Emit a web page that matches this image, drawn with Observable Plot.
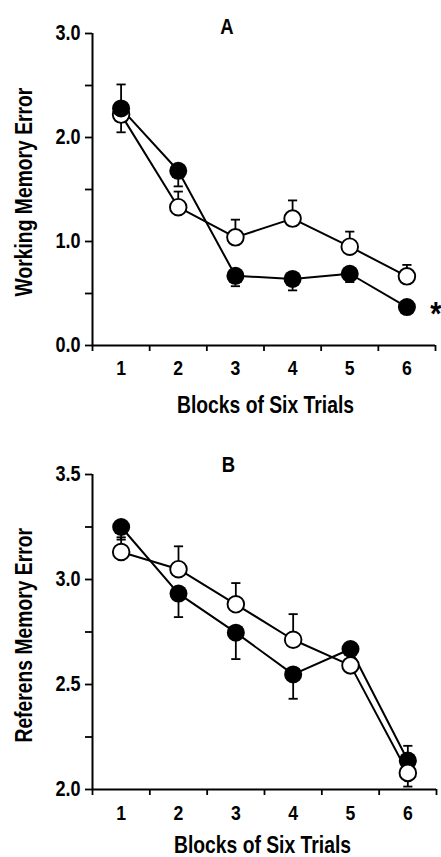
<!DOCTYPE html>
<html>
<head>
<meta charset="utf-8">
<script src="https://cdn.jsdelivr.net/npm/d3@7"></script>
<script src="https://cdn.jsdelivr.net/npm/@observablehq/plot@0.6"></script>
<style>
  html, body { margin: 0; padding: 0; background: #fff; }
  #chart svg { display: block; }
</style>
</head>
<body>
<div id="chart"></div>
<script>
// ---- data ----
const blocks = [1, 2, 3, 4, 5, 6];
const blockTicks = [0.5, 1.5, 2.5, 3.5, 4.5, 5.5, 6.5];
const xLabel = "Blocks of Six Trials";

// Panel A: Working memory error
const wmFilled = [2.28, 1.68, 0.67, 0.64, 0.69, 0.37];
const wmFilledSem = [0.23, 0.15, 0.10, 0.11, 0.08, 0.05];
const wmFilledSide = [1, -1, -1, -1, -1, -1];
const wmOpen = [2.22, 1.33, 1.04, 1.22, 0.95, 0.665];
const wmOpenSem = [0.17, 0.15, 0.17, 0.175, 0.145, 0.11];
const wmOpenSide = [-1, 1, 1, 1, 1, 1];
const wmTicks = [0, 0.5, 1, 1.5, 2, 2.5, 3];
const wmTickLabels = ["0.0", "", "1.0", "", "2.0", "", "3.0"];

// Panel B: Reference memory error
const rmFilled = [3.25, 2.933, 2.747, 2.548, 2.669, 2.138];
const rmFilledSem = [0.06, 0.112, 0.126, 0.116, 0.06, 0.07];
const rmFilledSide = [-1, -1, -1, -1, -1, 1];
const rmOpen = [3.131, 3.049, 2.882, 2.713, 2.591, 2.079];
const rmOpenSem = [0.07, 0.109, 0.101, 0.122, 0.06, 0.065];
const rmOpenSide = [1, 1, 1, 1, 1, -1];
const rmTicks = [2, 2.25, 2.5, 2.75, 3, 3.25, 3.5];
const rmTickLabels = ["2.0", "", "2.5", "", "3.0", "", "3.5"];

// ---- helpers ----
const FONT = '"Liberation Sans", Arial, sans-serif';
const NARROW = 0.84;
function rows(means, sems, sides) {
  return blocks.map((b, i) => ({block: b, mean: means[i], end: means[i] + sides[i] * sems[i]}));
}
const capSymbol = {
  draw(ctx, size) {
    const w = Math.sqrt(size / Math.PI);
    ctx.moveTo(-w, 0);
    ctx.lineTo(w, 0);
  }
};

function panel(o) {
  const F = rows(o.filled, o.filledSem, o.filledSide);
  const O = rows(o.open, o.openSem, o.openSide);
  const labelMap = new Map(o.yTicks.map((t, i) => [t, o.yTickLabels[i]]));
  const frameCx = 92 + (441 - 92 - o.marginRight) / 2;
  const openDots = Plot.dot(O, {x: "block", y: "mean", r: 8.3, fill: "white", stroke: "black", strokeWidth: 1.9});
  const filledDots = Plot.dot(F, {x: "block", y: "mean", r: 9, fill: "black"});
  const errMarks = (D) => [
    Plot.ruleX(D, {x: "block", y1: "mean", y2: "end", stroke: "black", strokeWidth: 1.8}),
    Plot.dot(D, {x: "block", y: "end", r: 4.6, symbol: capSymbol, stroke: "black", strokeWidth: 1.8, fill: "none"})
  ];
  const svg = Plot.plot({
    width: 441,
    height: o.height,
    marginLeft: 92,
    marginRight: o.marginRight,
    marginTop: o.marginTop,
    marginBottom: o.marginBottom,
    x: {domain: [0.5, 6.5]},
    y: {domain: [o.yTicks[0], o.yTicks[o.yTicks.length - 1]]},
    style: {fontFamily: FONT, fontWeight: "bold", color: "black", background: "white", overflow: "visible"},
    marks: [
      Plot.axisY({ticks: o.yTicks, tickFormat: (d) => labelMap.get(d), tickSize: 7, tickPadding: 5, fontSize: 21.5, strokeWidth: 1.8, label: null}),
      Plot.axisX({ticks: blockTicks, tickFormat: () => "", tickSize: 6, strokeWidth: 1.8, label: null}),
      Plot.axisX({ticks: blocks, tickFormat: (d) => String(d), tickSize: 0, tickPadding: o.xTickPad, fontSize: 21, label: null}),
      Plot.ruleX([0.5], {stroke: "black", strokeWidth: 2}),
      Plot.ruleY([o.yTicks[0]], {stroke: "black", strokeWidth: 2}),
      Plot.line(O, {x: "block", y: "mean", stroke: "black", strokeWidth: 2}),
      Plot.line(F, {x: "block", y: "mean", stroke: "black", strokeWidth: 2}),
      ...(o.openOnTop ? errMarks(F) : errMarks(O)),
      ...(o.openOnTop ? errMarks(O) : errMarks(F)),
      ...(o.openOnTop ? [filledDots, openDots] : [openDots, filledDots]),
      Plot.text([o.title], {frameAnchor: "top", textAnchor: "middle", lineAnchor: "bottom", dx: o.titleDx, dy: o.titleDy, fontSize: 22, ariaLabel: "wide"}),
      Plot.text([xLabel], {frameAnchor: "bottom", textAnchor: "middle", lineAnchor: "bottom", dx: o.xLabelCx - frameCx, dy: o.xLabelDy, fontSize: 23}),
      Plot.text([o.yLabel], {frameAnchor: "left", textAnchor: "middle", lineAnchor: "bottom", rotate: -90, dx: -61, dy: o.yLabelDy, fontSize: 23}),
      ...(o.star ? [Plot.text(F.slice(-1), {x: "block", y: "mean", text: () => "*", dx: 29, dy: 7, fontSize: 34, lineAnchor: "middle", ariaLabel: "wide"})] : [])
    ]
  });
  // condensed lettering like the original (narrow bold face)
  d3.select(svg).selectAll("text").each(function () {
    if (this.closest('g[aria-label="wide"]')) return;
    const t = d3.select(this);
    const x = t.attr("x");
    if (x != null) t.attr("x", +x / NARROW);
    const tr = t.attr("transform") || "";
    t.attr("transform", (tr + ` scale(${NARROW},1)`).trim());
  });
  return svg;
}

const chart = document.getElementById("chart");
chart.append(panel({
  title: "A", yLabel: "Working Memory Error",
  filled: wmFilled, filledSem: wmFilledSem, filledSide: wmFilledSide,
  open: wmOpen, openSem: wmOpenSem, openSide: wmOpenSide,
  yTicks: wmTicks, yTickLabels: wmTickLabels,
  height: 430, marginTop: 33, marginBottom: 85, marginRight: 6,
  openOnTop: false, star: true,
  titleDx: -37, titleDy: 0, xLabelCx: 265, xLabelDy: 67, yLabelDy: 2.5, xTickPad: 15
}));
chart.append(panel({
  title: "B", yLabel: "Referens Memory Error",
  filled: rmFilled, filledSem: rmFilledSem, filledSide: rmFilledSide,
  open: rmOpen, openSem: rmOpenSem, openSide: rmOpenSide,
  yTicks: rmTicks, yTickLabels: rmTickLabels,
  height: 427, marginTop: 44, marginBottom: 68, marginRight: 5,
  openOnTop: true, star: false,
  titleDx: -36, titleDy: -2.5, xLabelCx: 262, xLabelDy: 63, yLabelDy: 3.3, xTickPad: 16
}));
</script>
</body>
</html>
